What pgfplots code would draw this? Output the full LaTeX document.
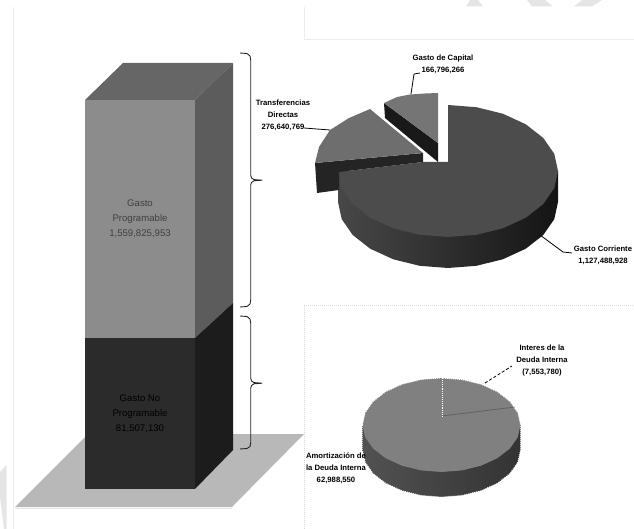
\documentclass[border=0pt]{standalone}
\usepackage{fontspec}
\setmainfont{Liberation Sans}
\usepackage{pgfplots}
\pgfplotsset{compat=1.18}
\newcommand{\lab}{\fontsize{7.7}{12}\selectfont\bfseries}
\newcommand{\collab}{\fontsize{9.6}{15.2}\selectfont}
\begin{document}
\begin{tikzpicture}
\begin{axis}[
  scale only axis, width=634pt, height=529pt,
  xmin=0, xmax=634, ymin=0, ymax=529, y dir=reverse,
  hide axis, clip=true,
  every axis plot/.append style={no markers, line join=round},
  solid face/.style={draw=none, fill=#1},
  frame line/.style={color=black!7, line width=1pt},
  brace/.style={color=black!85, line width=0.9pt},
  leader/.style={color=black, line width=0.8pt},
]
% page background decoration
\addplot[solid face=black!10] coordinates {(470,0)(478,0)(483,6.5)(466,6.5)} --cycle;
\addplot[solid face=black!10] coordinates {(527,0)(545,0)(553,6.5)(532,6.5)} --cycle;
\addplot[solid face=black!10] coordinates {(582,0)(602,0)(592,6.5)(574,6.5)} --cycle;
\addplot[solid face=black!10] coordinates {(0,472)(6.5,465)(6.5,529)(4,529)(0,497)} --cycle;
\addplot[frame line] coordinates {(13,7)(13,529)};
\addplot[frame line] coordinates {(304,7)(304,40)(634,40)};
\addplot[frame line, densely dotted, color=black!15] coordinates {(304,529)(304,305)(634,305)};

% floor under the column
\addplot[solid face=black!28] coordinates {(15,507)(232,507)(304,434)(88,434)} --cycle;
\addplot[color=black!10, line width=0.8pt] coordinates {(15,508)(232,508)};

% stacked column
\addplot[solid face=black!60] coordinates {(85,100)(195,100)(233,63)(123,63)} --cycle;
\addplot[solid face=black!64] coordinates {(195,100)(233,63)(233,303)(195,338)} --cycle;
\addplot[solid face=black!45] coordinates {(85,100)(195,100)(195,338)(85,338)} --cycle;
\addplot[solid face=black!89] coordinates {(195,338)(233,303)(233,450)(195,489)} --cycle;
\addplot[solid face=black!83] coordinates {(85,338)(195,338)(195,489)(85,489)} --cycle;

% braces
\addplot[brace] coordinates {(240,53)(247,53.5)(250,56)(250.7,60)(250.7,175)(251.5,178)(254,179.6)(262,180.2)(254,180.8)(251.5,182.5)(250.7,185)(250.7,300)(250,304)(247,306.5)(240,307)};
\addplot[brace] coordinates {(240,316)(247,316.5)(250,319)(250.7,323)(250.7,378)(251.5,381)(254,382.6)(262,383.2)(254,383.8)(251.5,385.5)(250.7,388)(250.7,443)(250,446.5)(247,448.5)(240,449)};

% large pie: rim of the main slice
\addplot[draw=none, left color=black!72, middle color=black!78, right color=black!92] coordinates {
  (558,171)(558,202)(554.3,219.1)(543.3,235)(525.8,248.7)(503,259.2)(476.5,265.8)(448,268)
  (419.5,265.8)(393,259.2)(370.2,248.7)(352.7,235)(341.7,219.1)(338,202)(338,171)} --cycle;
% large pie: main slice
\addplot[solid face=black!70] coordinates {
  (448,162)(448,105)(476.5,107.2)(503,113.8)(525.8,124.3)(543.3,138)(554.3,153.9)(558,171)
  (554.3,188.1)(543.3,204)(525.8,217.7)(503,228.2)(476.5,234.8)(448,237)(419.5,234.8)(393,228.2)
  (370.2,217.7)(352.7,204)(341.7,188.1)(339,172)(423,162)} --cycle;
% large pie: detached slices
\addplot[solid face=black!86] coordinates {(315,163)(317,193)(339,190)(339,172)(423,162)(423,153)} --cycle;
\addplot[solid face=black!57] coordinates {(423,153)(370,109)(349,118)(330,130)(319,147)(315,163)} --cycle;
\addplot[solid face=black!90] coordinates {(384,103)(385,118)(438,162)(438,143)} --cycle;
\addplot[solid face=black!54] coordinates {(438,143)(384,103)(397,97)(410,94.5)(425,93.5)(438,93)} --cycle;

% large pie: leaders and labels
\addplot[leader] coordinates {(411,94)(414,74)(420,73)};
\addplot[leader] coordinates {(304,128)(330,130)};
\addplot[leader] coordinates {(540,235)(563,252)(572,253)};
\node[align=center, font=\lab] at (axis cs:443,64.5) {Gasto de Capital\\166,796,266};
\node[align=center, font=\lab] at (axis cs:283,115) {Transferencias\\Directas\\276,640,769};
\node[align=center, font=\lab] at (axis cs:603,255.5) {Gasto Corriente\\1,127,488,928};

% small pie: rim and surface
\addplot[draw=none, left color=black!68, middle color=black!58, right color=black!80] coordinates {
  (520.5,425)(520.5,450)(517.8,462.2)(509.9,473.5)(497.4,483.2)(481,490.7)(461.9,495.4)(441.5,497)
  (421.1,495.4)(402,490.7)(385.6,483.2)(373.1,473.5)(365.2,462.2)(362.5,450)(362.5,425)} --cycle;
\addplot[solid face=black!50] coordinates {
  (441.5,378)(461.9,379.6)(481,384.3)(497.4,391.8)(509.9,401.5)(517.8,412.8)(520.5,425)
  (517.8,437.2)(509.9,448.5)(497.4,458.2)(481,465.7)(461.9,470.4)(441.5,472)(421.1,470.4)(402,465.7)
  (385.6,458.2)(373.1,448.5)(365.2,437.2)(362.5,425)(365.2,412.8)(373.1,401.5)(385.6,391.8)(402,384.3)(421.1,379.6)} --cycle;
\addplot[color=black!62, line width=0.8pt] coordinates {(442,416)(515,407)};
\addplot[color=white, line width=0.9pt, densely dotted] coordinates {(442,378)(442,417)};
% speckled outline of the small pie
\addplot[color=white, line width=0.9pt, dash pattern=on 0.7pt off 1.3pt] coordinates {
  (362.5,425)(365.2,412.8)(373.1,401.5)(385.6,391.8)(402,384.3)(421.1,379.6)(441.5,378)(461.9,379.6)
  (481,384.3)(497.4,391.8)(509.9,401.5)(517.8,412.8)(520.5,425)(520.5,450)(517.8,462.2)(509.9,473.5)
  (497.4,483.2)(481,490.7)(461.9,495.4)(441.5,497)(421.1,495.4)(402,490.7)(385.6,483.2)(373.1,473.5)
  (365.2,462.2)(362.5,450)(362.5,425)};
\addplot[leader, densely dashed] coordinates {(485,383)(512,366)};
\node[align=center, font=\lab] at (axis cs:542,361) {Interes de la\\Deuda Interna\\(7,553,780)};
\node[align=center, font=\lab] at (axis cs:336,468.5) {Amortización de\\la Deuda Interna\\62,988,550};

% column labels
\node[align=center, font=\collab, text=black!75] at (axis cs:140,219) {Gasto\\Programable\\1,559,825,953};
\node[align=center, font=\collab, text=black] at (axis cs:140,413.5) {Gasto No\\Programable\\81,507,130};
\end{axis}
\end{tikzpicture}
\end{document}
